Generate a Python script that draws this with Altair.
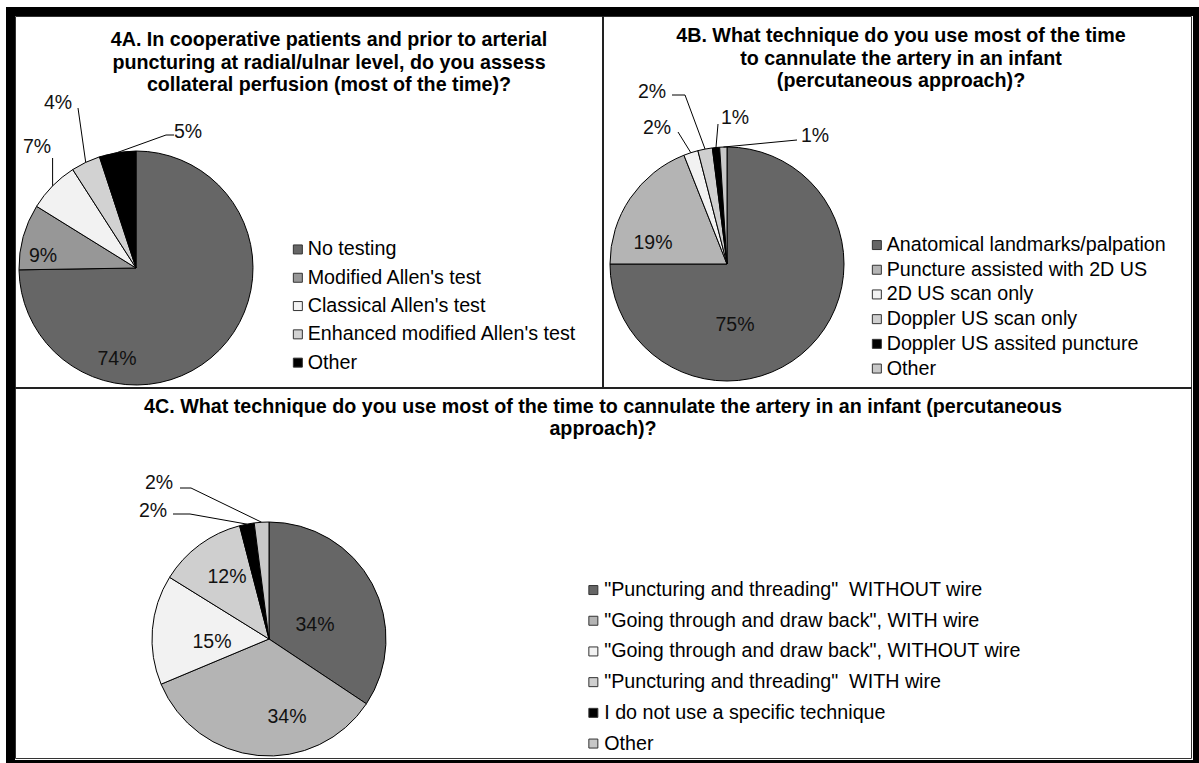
import math
import altair as alt
import pandas as pd

# ---------------- data ----------------
a_cats = ["No testing", "Modified Allen's test", "Classical Allen's test",
          "Enhanced modified Allen's test", "Other"]
a_vals = [74, 9, 7, 4, 5]

b_cats = ["Anatomical landmarks/palpation", "Puncture assisted with 2D US",
          "2D US scan only", "Doppler US scan only",
          "Doppler US assited puncture", "Other"]
b_vals = [75, 19, 2, 2, 1, 1]

c_cats = ['"Puncturing and threading"\u00a0 WITHOUT wire',
          '"Going through and draw back", WITH wire',
          '"Going through and draw back", WITHOUT wire',
          '"Puncturing and threading"\u00a0 WITH wire',
          "I do not use a specific technique", "Other"]
c_vals = [34, 34, 15, 12, 2, 2]

a_title = ["4A. In cooperative patients and prior to arterial",
           "puncturing at radial/ulnar level, do you assess",
           "collateral perfusion (most of the time)?"]
b_title = ["4B. What technique do you use most of the time",
           "to cannulate the artery in an infant",
           "(percutaneous approach)?"]
c_title = ["4C. What technique do you use most of the time to cannulate the artery in an infant (percutaneous",
           "approach)?"]

# ---------------- styles / layout ----------------
a_colors = ["#666666", "#979797", "#f2f2f2", "#d2d2d2", "#000000"]
b_colors = ["#666666", "#b4b4b4", "#f2f2f2", "#cfcfcf", "#000000", "#c8c8c8"]
c_colors = ["#666666", "#b4b4b4", "#f2f2f2", "#cfcfcf", "#000000", "#c8c8c8"]

FONT = "Liberation Sans"
W, H = 1199, 763
R = 117
TFS = 19.7   # title font size
LFS = 19.7   # legend font size
PFS = 19.5   # pie label font size

layout = {
    "A": dict(cx=136, cy=268, legend=(288, 239.6, 7.3, 0), lh=22.5,
              title=(329, 46),
              labels=[((117, 359), None), ((43, 256), None),
                      ((37, 147), [(52.6, 158)]),
                      ((58, 103), [(78, 108)]),
                      ((188, 132), [(174, 135), (166, 135)])]),
    "B": dict(cx=727, cy=264, legend=(867, 235.2, 3.7, 0), lh=22.5,
              title=(901, 42),
              labels=[((735, 325), None), ((653, 243), None),
                      ((657, 128), [(678, 132)]),
                      ((652, 92), [(672, 95), (685, 95)]),
                      ((735, 118), [(718, 124)]),
                      ((815, 136), [(797, 140)])]),
    "C": dict(cx=269, cy=639, legend=(583.5, 580.2, 9.7, 1), lh=21.5,
              title=(603, 413),
              labels=[((315, 625), None), ((287, 717), None),
                      ((212, 642), None), ((227, 577), None),
                      ((153, 511), [(173, 514), (190, 514)]),
                      ((159, 483), [(180, 488), (191, 488)])]),
}

pies = [("A", a_cats, a_vals, a_colors, a_title),
        ("B", b_cats, b_vals, b_colors, b_title),
        ("C", c_cats, c_vals, c_colors, c_title)]

xs = alt.Scale(domain=[0, W], nice=False, zero=False)
ys = alt.Scale(domain=[0, H], nice=False, zero=False, reverse=True)
dummy = alt.Data(values=[{}])


def box(x1, x2, y1, y2, **kw):
    return alt.Chart(dummy).mark_rect(**kw).encode(
        x=alt.value(x1), x2=alt.value(x2), y=alt.value(y1), y2=alt.value(y2))


layers = []
# outer thick black frame (four bars) and panel dividers
layers.append(box(6, 15, 7, H, fill="black"))
layers.append(box(6, W, 7, 16, fill="black"))
layers.append(box(1193, W, 7, H, fill="black"))
layers.append(box(6, W, 760, H, fill="black"))
layers.append(box(15.5, 1191.5, 16.5, 758.5, fill="white", stroke="#333333", strokeWidth=1))
layers.append(box(602, 604, 16, 389, fill="#222222"))
layers.append(box(15, 1192, 387, 389, fill="#222222"))

label_rows = []
line_rows = []
for key, cats, vals, cols, title in pies:
    L = layout[key]
    df = pd.DataFrame({"cat": cats, "v": vals, "idx": list(range(len(cats)))})
    lx, ly, rp, lo = L["legend"]
    layers.append(
        alt.Chart(df).mark_arc(radius=R, stroke="black", strokeWidth=1).encode(
            theta=alt.Theta("v:Q", stack=True),
            color=alt.Color("cat:N", sort=cats,
                            scale=alt.Scale(domain=cats, range=cols),
                            legend=alt.Legend(title=None, orient="none", legendX=lx, legendY=ly,
                                              symbolType="square", symbolSize=81,
                                              symbolStrokeColor="#333333", symbolStrokeWidth=1,
                                              symbolOpacity=1,
                                              labelFont=FONT, labelFontSize=LFS, labelColor="black",
                                              labelLimit=1000, rowPadding=rp, labelOffset=lo,
                                              padding=0)),
            order=alt.Order("idx:Q"),
            x=alt.value(L["cx"]), y=alt.value(L["cy"]),
        )
    )
    total = sum(vals)
    cum = 0
    for i, v in enumerate(vals):
        mid = 2 * math.pi * (cum + v / 2) / total
        cum += v
        (tx, ty), path = L["labels"][i]
        label_rows.append({"x": tx, "y": ty, "t": f"{v}%"})
        if path:
            ex = L["cx"] + R * math.sin(mid)
            ey = L["cy"] - R * math.cos(mid)
            pts = list(path) + [(ex, ey)]
            for s, (px, py) in enumerate(pts):
                line_rows.append({"lid": f"{key}{i}", "seq": s, "x": px, "y": py})
    tx0, ty0 = L["title"]
    layers.append(alt.Chart(dummy).mark_text(
        text=title, font=FONT, fontSize=TFS, fontWeight="bold", color="black",
        align="center", baseline="alphabetic", lineHeight=L["lh"]).encode(
        x=alt.value(tx0), y=alt.value(ty0)))

lines_df = pd.DataFrame(line_rows)
labels_df = pd.DataFrame(label_rows)

layers.append(alt.Chart(lines_df).mark_line(color="black", strokeWidth=1).encode(
    x=alt.X("x:Q", scale=xs, axis=None),
    y=alt.Y("y:Q", scale=ys, axis=None),
    detail="lid:N", order="seq:Q"))
layers.append(alt.Chart(labels_df).mark_text(
    font=FONT, fontSize=PFS, color="#111111", align="center", baseline="middle").encode(
    x=alt.X("x:Q", scale=xs, axis=None),
    y=alt.Y("y:Q", scale=ys, axis=None),
    text="t:N"))

chart = alt.layer(*layers).resolve_scale(
    color="independent", theta="independent"
).properties(
    width=W, height=H, padding=0,
    autosize=alt.AutoSizeParams(type="none"),
    background="white",
).configure_view(stroke=None)

chart.save("out.html", embed_options={"renderer": "svg", "actions": False})
